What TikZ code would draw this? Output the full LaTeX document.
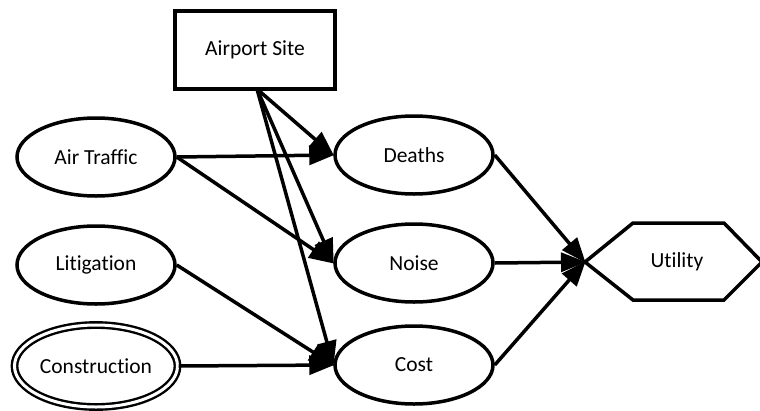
\documentclass[tikz,border=0pt]{standalone}
\usepackage{fontspec}
\setmainfont[Ligatures={NoCommon}]{Carlito}
\usetikzlibrary{shapes.geometric,arrows.meta}
\begin{document}
\begin{tikzpicture}[x=1pt,y=-1pt,
  every node/.style={font=\fontsize{21.5}{25}\selectfont},
  ell/.style={draw, line width=3.5pt, ellipse, minimum width=158pt, minimum height=78pt, inner sep=0pt},
  dbl/.style={draw, line width=2.4pt, double, double distance=3pt, ellipse, minimum width=163pt, minimum height=82pt, inner sep=0pt},
  box/.style={draw, line width=3.5pt, rectangle, minimum width=160pt, minimum height=78pt, inner sep=0pt},
  conn/.style={line width=3.5pt, -{Triangle[length=25pt,width=19pt]}, shorten >=-1pt}
]
\useasboundingbox (0,0) rectangle (760,410);
\node[box] (site) at (255,50) {Airport Site};
\node[ell] (air) at (96,157) {Air Traffic};
\node[ell] (lit) at (96,265) {Litigation};
\node[dbl] (con) at (96,366) {Construction};
\node[ell] (death) at (414,155) {Deaths};
\node[ell] (noise) at (414,263) {Noise};
\node[ell] (cost) at (414,365) {Cost};
\coordinate (uw) at (585,262);
\coordinate (utl) at (633,223);
\coordinate (utr) at (724,223);
\coordinate (ue) at (762,262);
\coordinate (ubr) at (724,300);
\coordinate (ubl) at (633,300);
\draw[line width=3.5pt, line join=miter] (uw) -- (utl) -- (utr) -- (ue) -- (ubr) -- (ubl) -- cycle;
\node (util) at (677,262) {Utility};
\coordinate (sb) at (257,89);
\draw[conn] (sb) -- (death.west);
\draw[conn] (sb) -- (noise.west);
\draw[conn] (sb) -- (cost.west);
\draw[conn] (air.east) -- (death.west);
\draw[conn] (air.east) -- (noise.west);
\draw[conn] (lit.east) -- (cost.west);
\draw[conn] (con.east) -- (cost.west);
\draw[conn] (death.east) -- (uw);
\draw[conn] (noise.east) -- (uw);
\draw[conn] (cost.east) -- (uw);
\end{tikzpicture}
\end{document}
